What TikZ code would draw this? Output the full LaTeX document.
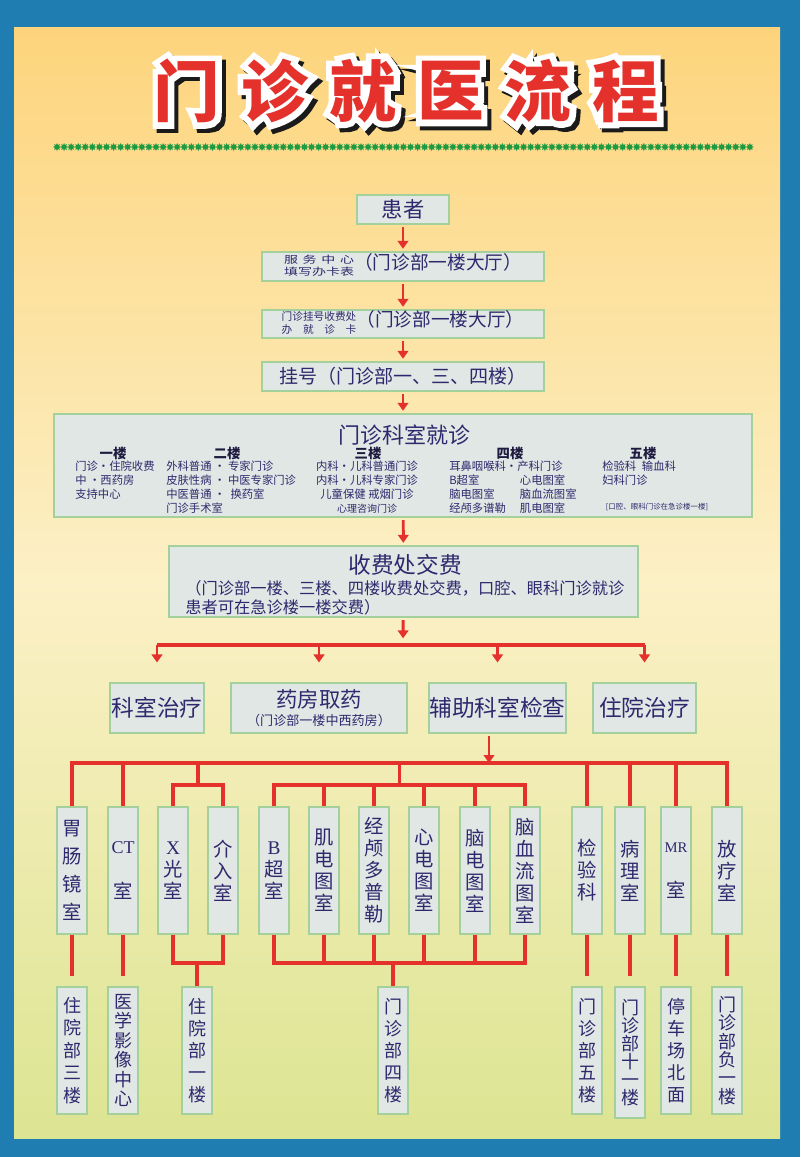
\documentclass[tikz,border=0pt]{standalone}
\usepackage{fontspec}
\setmainfont{Noto Sans CJK SC}
\newfontfamily\latinserif{Liberation Serif}
\newfontfamily\titleedge{Noto Sans CJK SC}[BoldFeatures={FakeBold=18}]
\newfontfamily\widesmall{Noto Sans CJK SC}[FakeStretch=1.4]
\usetikzlibrary{arrows.meta,positioning,calc,shapes.geometric}

\definecolor{frameblue}{HTML}{1F7DB2}
\definecolor{paneltop}{HTML}{FDD47C}
\definecolor{panelmid}{HTML}{FCF0C6}
\definecolor{panelbot}{HTML}{DCE592}
\definecolor{boxfill}{HTML}{E1E7E4}
\definecolor{boxline}{HTML}{A3D09B}
\definecolor{ink}{HTML}{30286E}
\definecolor{headink}{HTML}{1E1A40}
\definecolor{flowred}{HTML}{E4312B}
\definecolor{stargreen}{HTML}{1E9A40}
\definecolor{shadowgray}{HTML}{1A1A1A}

\def\pxl{0.75pt}

\begin{document}
\begin{tikzpicture}[x=0.75pt, y=-0.75pt,
    box/.style={draw=boxline, fill=boxfill, line width=0.8pt, inner sep=0pt, text=ink},
    vbox/.style={box, minimum width=30*\pxl, minimum height=127*\pxl, align=center, font=\fontsize{14.5}{16.5}\selectfont},
    lowbox/.style={vbox, font=\fontsize{13.5}{16.5}\selectfont},
    flow/.style={draw=flowred, line width=2.2pt, -{Triangle[width=8pt,length=6pt]}, shorten <=2pt, shorten >=2pt},
    tree/.style={draw=flowred, line width=2.4pt},
    floor/.style={text=headink, inner sep=0pt, font=\fontsize{10}{12}\selectfont\bfseries},
    item/.style={text=ink, inner sep=0pt, align=left, font=\fontsize{8.5}{10.5}\selectfont}]

    % Frame and background
    \fill[frameblue] (0,0) rectangle (800,1157);
    \shade[top color=paneltop, bottom color=panelbot, middle color=panelmid] (14,27) rectangle (780,1138);
    \useasboundingbox (0,0) rectangle (800,1157);

    % Title with outline and shadow
    \foreach \c [count=\i] in {门,诊,就,医,流,程} {
        \node[text=shadowgray, font=\titleedge\bfseries\fontsize{50}{50}\selectfont] (ts\i) at ({103.2+87.8*\i},95) {\c};
        \node[text=white, font=\titleedge\bfseries\fontsize{50}{50}\selectfont] (tw\i) at ({99.2+87.8*\i},91) {\c};
        \node[text=flowred, font=\bfseries\fontsize{50}{50}\selectfont] (t\i) at ({99.2+87.8*\i},91) {\c};
    }

    % Star line
    \foreach \i in {0,...,98}
        \node[star, star points=8, star point ratio=1.8, fill=stargreen, inner sep=0pt, minimum size=8*\pxl] (st\i) at ({57+7.07*\i},147) {};

    % Main flow
    \node[box, minimum width=92*\pxl, minimum height=29*\pxl, font=\fontsize{16}{18}\selectfont] (pat) at (403,209.5) {患者};
    \node[box, minimum width=282*\pxl, minimum height=29*\pxl] (svc) at (403,266.5)
        {{\widesmall\fontsize{7.5}{9.5}\selectfont\begin{tabular}{@{}c@{}}\hbox to 7em{服\hfil 务\hfil 中\hfil 心}\\填写办卡表\end{tabular}}{\fontsize{14}{16}\selectfont （门诊部一楼大厅）}};
    \node[box, minimum width=282*\pxl, minimum height=28*\pxl] (reg) at (403,324)
        {{\fontsize{8}{9.75}\selectfont\begin{tabular}{@{}c@{}}门诊挂号收费处\\\hbox to 7em{办\hfil 就\hfil 诊\hfil 卡}\end{tabular}}{\fontsize{14}{16}\selectfont （门诊部一楼大厅）}};
    \node[box, minimum width=282*\pxl, minimum height=29*\pxl, font=\fontsize{14.3}{16}\selectfont] (gh) at (403,376.5) {挂号（门诊部一、三、四楼）};

    % Department box
    \node[box, minimum width=698*\pxl, minimum height=103*\pxl] (dept) at (403,465.5) {};
    \node[text=ink, inner sep=0pt, font=\fontsize{16.5}{18}\selectfont] (depttitle) at (404,435) {门诊科室就诊};
    \node[floor] (h1) at (113,453) {一楼};
    \node[floor] (h2) at (227,453) {二楼};
    \node[floor] (h3) at (368,453) {三楼};
    \node[floor] (h4) at (510,453) {四楼};
    \node[floor] (h5) at (643,453) {五楼};
    \node[item, anchor=north west] (f1) at (75,461) {门诊•住院收费\\中 •西药房\\支持中心};
    \node[item, anchor=north west] (f2) at (166,461) {外科普通 • 专家门诊\\皮肤性病 • 中医专家门诊\\中医普通 •\ \ 换药室\\门诊手术室};
    \node[item, align=center, anchor=north] (f3) at (367,461) {内科•儿科普通门诊\\内科•儿科专家门诊\\儿童保健 戒烟门诊\\{\fontsize{7.5}{10.5}\selectfont 心理咨询门诊}};
    \node[item, anchor=north west] (f4) at (449,461) {耳鼻咽喉科•产科门诊\\\makebox[53pt][l]{B超室}心电图室\\\makebox[53pt][l]{脑电图室}脑血流图室\\\makebox[53pt][l]{经颅多谱勒}肌电图室};
    \node[item, anchor=north west] (f5) at (602,461) {检验科\enspace 输血科\\妇科门诊};
    \node[text=ink, inner sep=0pt, font=\fontsize{5.6}{6}\selectfont] (f5n) at (657,507) {[口腔、眼科门诊在急诊楼一楼]};

    % Fee box
    \node[box, minimum width=469*\pxl, minimum height=71*\pxl] (fee) at (403.5,581.5) {};
    \node[text=ink, inner sep=0pt, font=\fontsize{17}{19}\selectfont] (feetitle) at (405,565) {收费处交费};
    \node[item, anchor=north west, font=\fontsize{12.2}{14.3}\selectfont] (feenote) at (185,580) {（门诊部一楼、三楼、四楼收费处交费，口腔、眼科门诊就诊\\患者可在急诊楼一楼交费）};

    % Treatment row
    \node[box, minimum width=94*\pxl, minimum height=50*\pxl, font=\fontsize{17}{19}\selectfont] (ks) at (157,708) {科室治疗};
    \node[box, minimum width=176*\pxl, minimum height=50*\pxl, align=center, font=\fontsize{16}{13.5}\selectfont] (yf) at (319,708) {药房取药\\{\fontsize{9.8}{12}\selectfont （门诊部一楼中西药房）}};
    \node[box, minimum width=137*\pxl, minimum height=50*\pxl, font=\fontsize{17}{19}\selectfont] (fz) at (497.5,708) {辅助科室检查};
    \node[box, minimum width=103*\pxl, minimum height=50*\pxl, font=\fontsize{17}{19}\selectfont] (zy) at (644.5,708) {住院治疗};

    % Examination rooms
    \node[vbox, font=\fontsize{14.5}{21}\selectfont] (gc) at (72,870.5) {胃\\肠\\镜\\室};
    \node[vbox] (ct) at (123,870.5) {{\latinserif\fontsize{13.5}{16}\selectfont CT}\\[17pt]室};
    \node[vbox] (xg) at (173,870.5) {{\latinserif X}\\光\\室};
    \node[vbox] (jr) at (223,870.5) {介\\入\\室};
    \node[vbox] (bc) at (274,870.5) {{\latinserif B}\\超\\室};
    \node[vbox] (jd) at (324,870.5) {肌\\电\\图\\室};
    \node[vbox] (jl) at (374,870.5) {经\\颅\\多\\普\\勒};
    \node[vbox] (xd) at (424,870.5) {心\\电\\图\\室};
    \node[vbox] (nd) at (475,870.5) {脑\\电\\图\\室};
    \node[vbox] (nx) at (525,870.5) {脑\\血\\流\\图\\室};
    \node[vbox] (jy) at (587,870.5) {检\\验\\科};
    \node[vbox] (bl) at (630,870.5) {病\\理\\室};
    \node[vbox] (mr) at (676,870.5) {{\latinserif\fontsize{11}{14}\selectfont MR}\\[17pt]室};
    \node[vbox] (fl) at (727,870.5) {放\\疗\\室};

    % Locations
    \node[lowbox, font=\fontsize{13.5}{16.9}\selectfont] (zy3) at (72,1050.5) {住\\院\\部\\三\\楼};
    \node[lowbox, font=\fontsize{13.5}{14.6}\selectfont] (yx) at (123,1050.5) {医\\学\\影\\像\\中\\心};
    \node[lowbox] (zy1) at (197,1050.5) {住\\院\\部\\一\\楼};
    \node[lowbox] (mz4) at (393,1050.5) {门\\诊\\部\\四\\楼};
    \node[lowbox] (mz5) at (587,1050.5) {门\\诊\\部\\五\\楼};
    \node[lowbox, minimum height=131*\pxl, font=\fontsize{13.5}{13.5}\selectfont] (mz11) at (630,1052.5) {门\\诊\\部\\十\\一\\楼};
    \node[lowbox] (tc) at (676,1050.5) {停\\车\\场\\北\\面};
    \node[lowbox, font=\fontsize{13.5}{13.8}\selectfont] (fu1) at (727,1050.5) {门\\诊\\部\\负\\一\\楼};

    % Arrows of the main flow
    \draw[flow] (pat) -- (svc);
    \draw[flow] (svc) -- (reg);
    \draw[flow] (reg) -- (gh);
    \draw[flow] (gh) -- (dept);
    \draw[flow] (dept) -- (fee);
    \coordinate (split) at (403,645);
    \draw[flow, shorten >=5pt] (fee) -- (split);
    \draw[tree] (ks.north |- split) -- (zy.north |- split);
    \foreach \n in {ks,yf,fz,zy}
        \draw[flow, shorten <=0pt, shorten >=15pt] (\n.north |- split) -- (\n.north);

    % Tree of rooms
    \coordinate (trunk) at (489,763);
    \draw[flow, shorten >=0pt] (fz.south -| trunk) -- (trunk);
    \coordinate (topbar) at (0,763);
    \coordinate (xbar) at (0,785);
    \coordinate (lowbar) at (0,963);
    \coordinate (xmid) at ($(xg.north)!.5!(jr.north)$);
    \coordinate (bmid) at ($(bc.north)!.5!(nx.north)$);
    \draw[tree] (gc.north) |- (fl.north |- topbar) -- (fl.north);
    \foreach \n in {ct,jy,bl,mr}
        \draw[tree] (\n.north |- topbar) -- (\n.north);
    \draw[tree] (xmid |- topbar) -- (xmid |- xbar);
    \draw[tree] (xg.north) |- (jr.north |- xbar) -- (jr.north);
    \draw[tree] (bmid |- topbar) -- (bmid |- xbar);
    \draw[tree] (bc.north) |- (nx.north |- xbar) -- (nx.north);
    \foreach \n in {jd,jl,xd,nd}
        \draw[tree] (\n.north |- xbar) -- (\n.north);

    % Rooms to locations
    \draw[tree] (xg.south) |- (jr.south |- lowbar) -- (jr.south);
    \draw[tree] (zy1.north |- lowbar) -- (zy1.north);
    \draw[tree] (bc.south) |- (nx.south |- lowbar) -- (nx.south);
    \foreach \n in {jd,jl,xd,nd}
        \draw[tree] (\n.south) -- (\n.south |- lowbar);
    \draw[tree] (mz4.north |- lowbar) -- (mz4.north);
    \draw[tree, shorten >=8pt] (gc.south) -- (zy3.north);
    \draw[tree, shorten >=8pt] (ct.south) -- (yx.north);
    \draw[tree, shorten >=8pt] (jy.south) -- (mz5.north);
    \draw[tree, shorten >=8pt] (bl.south) -- (mz11.north);
    \draw[tree, shorten >=8pt] (mr.south) -- (tc.north);
    \draw[tree, shorten >=8pt] (fl.south) -- (fu1.north);
\end{tikzpicture}
\end{document}
